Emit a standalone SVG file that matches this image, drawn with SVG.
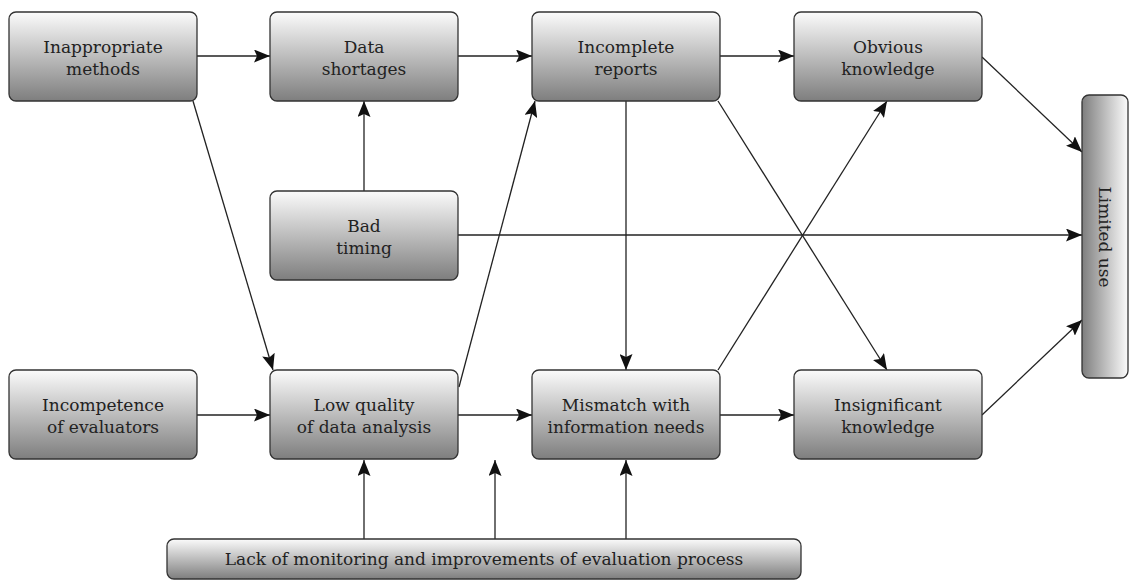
<svg xmlns="http://www.w3.org/2000/svg" width="1130" height="580" viewBox="0 0 1130 580">
<style>
.box{stroke:#333;stroke-width:1.3;fill:url(#gv)}
.t{font-family:'DejaVu Serif',serif;font-size:17px;fill:#222;text-anchor:middle}
.c{stroke:#222;stroke-width:1.3;fill:none;marker-end:url(#ah)}
</style>
<defs>
<linearGradient id="gv" x1="0" y1="0" x2="0" y2="1">
<stop offset="0" stop-color="#fbfbfb"/>
<stop offset="1" stop-color="#7e7e7e"/>
</linearGradient>
<linearGradient id="gh" x1="0" y1="0" x2="1" y2="0">
<stop offset="0" stop-color="#7e7e7e"/>
<stop offset="1" stop-color="#fbfbfb"/>
</linearGradient>
<marker id="ah" markerUnits="userSpaceOnUse" markerWidth="17" markerHeight="13" refX="16" refY="6.5" orient="auto">
<path d="M0,0 L16,6.5 L0,13 L3,6.5 z" fill="#111"/>
</marker>
</defs>
<rect width="1130" height="580" fill="#fff"/>
<g id="connectors">
<line class="c" x1="197" y1="56" x2="270" y2="56"/>
<line class="c" x1="458" y1="56" x2="532" y2="56"/>
<line class="c" x1="720" y1="56" x2="794" y2="56"/>
<line class="c" x1="364" y1="191" x2="364" y2="101"/>
<line class="c" x1="458" y1="235" x2="1082" y2="235"/>
<line class="c" x1="193" y1="101" x2="273" y2="370"/>
<line class="c" x1="459" y1="387" x2="535" y2="101"/>
<line class="c" x1="197" y1="415" x2="270" y2="415"/>
<line class="c" x1="458" y1="415" x2="532" y2="415"/>
<line class="c" x1="720" y1="415" x2="794" y2="415"/>
<line class="c" x1="626" y1="101" x2="626" y2="370"/>
<line class="c" x1="718" y1="101" x2="887" y2="370"/>
<line class="c" x1="718" y1="370" x2="887" y2="101"/>
<line class="c" x1="982" y1="57" x2="1082" y2="152"/>
<line class="c" x1="982" y1="415" x2="1082" y2="320"/>
<line class="c" x1="364" y1="539" x2="364" y2="460"/>
<line class="c" x1="495" y1="539" x2="495" y2="460"/>
<line class="c" x1="626" y1="539" x2="626" y2="460"/>
</g>
<g id="n1"><rect class="box" x="9" y="12" width="188" height="89" rx="7"/><text class="t" x="103" y="53">Inappropriate</text><text class="t" x="103" y="75">methods</text></g>
<g id="n2"><rect class="box" x="270" y="12" width="188" height="89" rx="7"/><text class="t" x="364" y="53">Data</text><text class="t" x="364" y="75">shortages</text></g>
<g id="n3"><rect class="box" x="532" y="12" width="188" height="89" rx="7"/><text class="t" x="626" y="53">Incomplete</text><text class="t" x="626" y="75">reports</text></g>
<g id="n4"><rect class="box" x="794" y="12" width="188" height="89" rx="7"/><text class="t" x="888" y="53">Obvious</text><text class="t" x="888" y="75">knowledge</text></g>
<g id="n5"><rect class="box" x="270" y="191" width="188" height="89" rx="7"/><text class="t" x="364" y="232">Bad</text><text class="t" x="364" y="254">timing</text></g>
<g id="n6"><rect class="box" x="9" y="370" width="188" height="89" rx="7"/><text class="t" x="103" y="411">Incompetence</text><text class="t" x="103" y="433">of evaluators</text></g>
<g id="n7"><rect class="box" x="270" y="370" width="188" height="89" rx="7"/><text class="t" x="364" y="411">Low quality</text><text class="t" x="364" y="433">of data analysis</text></g>
<g id="n8"><rect class="box" x="532" y="370" width="188" height="89" rx="7"/><text class="t" x="626" y="411">Mismatch with</text><text class="t" x="626" y="433">information needs</text></g>
<g id="n9"><rect class="box" x="794" y="370" width="188" height="89" rx="7"/><text class="t" x="888" y="411">Insignificant</text><text class="t" x="888" y="433">knowledge</text></g>
<g id="n10"><rect x="1082" y="95" width="46" height="283" rx="7" stroke="#333" stroke-width="1.3" fill="url(#gh)"/><text class="t" transform="translate(1099,237) rotate(90)">Limited use</text></g>
<g id="n11"><rect class="box" x="167" y="539" width="634" height="40" rx="7"/><text class="t" x="484" y="565">Lack of monitoring and improvements of evaluation process</text></g>
</svg>
